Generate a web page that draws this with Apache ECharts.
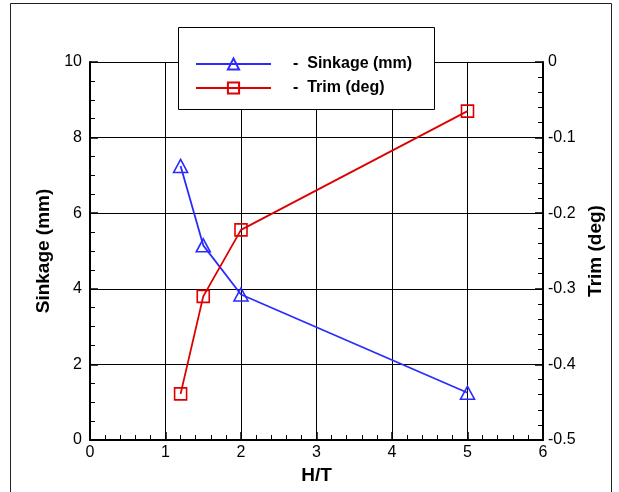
<!DOCTYPE html>
<html>
<head>
<meta charset="utf-8">
<script src="https://cdn.jsdelivr.net/npm/echarts@6/dist/echarts.min.js"></script>
<style>
  html, body { margin: 0; padding: 0; background: #fff; }
  #chart { width: 619px; height: 492px; }
</style>
</head>
<body>
<div id="chart"></div>
<script>
// Depth-to-draft ratio and measured squat response
const ratioHT = [1.2, 1.5, 2, 5];
const sinkageMM = [7.25, 5.15, 3.85, 1.25];
const trimDeg = [-0.439, -0.31, -0.222, -0.065];

const sinkageName = 'Sinkage (mm)';
const trimName = 'Trim (deg)';
const FONT = '"Liberation Sans", Arial, sans-serif';
const BLUE = '#2b2bff';
const RED = '#dd0000';

const pairs = (ys) => ratioHT.map((x, i) => [x, ys[i]]);

const chart = echarts.init(document.getElementById('chart'), null, { renderer: 'canvas' });

const tickLabel = { color: '#000', fontFamily: FONT, fontSize: 16 };
const nameStyle = { color: '#000', fontFamily: FONT, fontSize: 19, fontWeight: 'bold' };

chart.setOption({
  animation: false,
  backgroundColor: '#fff',
  grid: { left: 90, right: 76, top: 62, bottom: 52, containLabel: false },
  graphic: [
    // outer frame
    { type: 'rect', shape: { x: 10.5, y: 3.5, width: 601, height: 500 },
      style: { fill: 'none', stroke: '#222', lineWidth: 1 }, z: 0, silent: true },
    // legend frame
    { type: 'rect', shape: { x: 178.5, y: 27.5, width: 256, height: 82 },
      style: { fill: '#fff', stroke: '#000', lineWidth: 1 }, z: 10, silent: true }
  ],
  legend: {
    orient: 'vertical',
    left: 195,
    top: 56,
    padding: 0,
    itemWidth: 75,
    itemHeight: 14,
    itemGap: 8,
    z: 20,
    formatter: (n) => '-  ' + n,
    textStyle: { color: '#000', fontFamily: FONT, fontSize: 16, fontWeight: 'bold', padding: [0, 0, 0, 17] },
    data: [sinkageName, trimName]
  },
  xAxis: {
    type: 'value',
    min: 0, max: 6, interval: 1,
    name: 'H/T',
    nameLocation: 'middle',
    nameGap: 25,
    nameTextStyle: nameStyle,
    axisLine: { show: true, lineStyle: { color: '#000', width: 2 } },
    axisTick: { show: true, inside: true, length: 8, lineStyle: { color: '#000', width: 1.5 } },
    minorTick: { show: true, splitNumber: 5, length: 5, lineStyle: { color: '#000', width: 1 } },
    axisLabel: Object.assign({ margin: 5 }, tickLabel),
    splitLine: { show: true, lineStyle: { color: '#000', width: 1 } }
  },
  yAxis: [
    {
      type: 'value',
      position: 'left',
      min: 0, max: 10, interval: 2,
      name: sinkageName,
      nameLocation: 'middle',
      nameGap: 36,
      nameRotate: 90,
      nameTextStyle: nameStyle,
      axisLine: { show: true, lineStyle: { color: '#000', width: 2 } },
      axisTick: { show: true, inside: true, length: 8, lineStyle: { color: '#000', width: 1.5 } },
      minorTick: { show: true, splitNumber: 4, length: 5, lineStyle: { color: '#000', width: 1 } },
      axisLabel: Object.assign({ margin: 8 }, tickLabel),
      splitLine: { show: true, lineStyle: { color: '#000', width: 1 } }
    },
    {
      type: 'value',
      position: 'right',
      min: -0.5, max: 0, interval: 0.1,
      name: trimName,
      nameLocation: 'middle',
      nameGap: 43,
      nameRotate: 90,
      nameTextStyle: nameStyle,
      axisLine: { show: true, lineStyle: { color: '#000', width: 2 } },
      axisTick: { show: true, inside: true, length: 8, lineStyle: { color: '#000', width: 1.5 } },
      minorTick: { show: true, splitNumber: 5, length: 5, lineStyle: { color: '#000', width: 1 } },
      axisLabel: Object.assign({ margin: 5, formatter: (v) => (Math.abs(v) < 1e-9 ? '0' : String(Math.round(v * 10) / 10)) }, tickLabel),
      splitLine: { show: false }
    }
  ],
  series: [
    {
      name: sinkageName,
      type: 'line',
      yAxisIndex: 0,
      data: pairs(sinkageMM),
      symbol: 'triangle',
      symbolSize: [14, 13],
      lineStyle: { color: BLUE, width: 1.8 },
      itemStyle: { color: 'rgba(255,255,255,0)', borderColor: BLUE, borderWidth: 1.6 },
      z: 5
    },
    {
      name: trimName,
      type: 'line',
      yAxisIndex: 1,
      data: pairs(trimDeg),
      symbol: 'rect',
      symbolSize: 12,
      lineStyle: { color: RED, width: 1.8 },
      itemStyle: { color: 'rgba(255,255,255,0)', borderColor: RED, borderWidth: 1.6 },
      z: 5
    }
  ]
});
</script>
</body>
</html>
